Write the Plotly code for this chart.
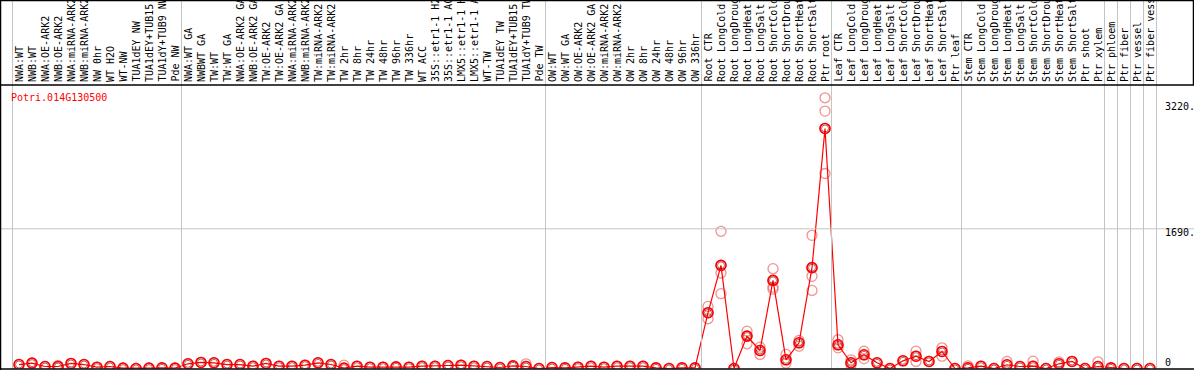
import plotly.graph_objects as go

gene = "Potri.014G130500"

categories = [
    "NWA:WT", "NWB:WT", "NWA:OE-ARK2", "NWB:OE-ARK2", "NWA:miRNA-ARK2", "NWB:miRNA-ARK2",
    "NW 0hr", "WT H2O", "WT-NW", "TUA1dEY NW", "TUA1dEY+TUB15", "TUA1dY+TUB9 NW", "Pde NW",
    "NWA:WT GA", "NWBWT GA", "TW:WT", "TW:WT GA", "NWA:OE-ARK2 GA", "NWB:OE-ARK2 GA",
    "TW:OE-ARK2", "TW:OE-ARK2 GA", "NWA:miRNA-ARK2", "NWB:miRNA-ARK2", "TW:miRNA-ARK2",
    "TW:miRNA-ARK2", "TW 2hr", "TW 8hr", "TW 24hr", "TW 48hr", "TW 96hr", "TW 336hr", "WT ACC",
    "35S::etr1-1 H2", "35S::etr1-1 AC", "LMX5::etr1-1 H", "LMX5::etr1-1 A", "WT-TW",
    "TUA1dEY TW", "TUA1dEY+TUB15", "TUA1dY+TUB9 TW", "Pde TW",
    "OW:WT", "OW:WT GA", "OW:OE-ARK2", "OW:OE-ARK2 GA", "OW:miRNA-ARK2", "OW:miRNA-ARK2",
    "OW 2hr", "OW 8hr", "OW 24hr", "OW 48hr", "OW 96hr", "OW 336hr",
    "Root CTR", "Root LongCold", "Root LongDroug", "Root LongHeat", "Root LongSalt",
    "Root ShortCold", "Root ShortDrou", "Root ShortHeat", "Root ShortSalt", "Ptr root",
    "Leaf CTR", "Leaf LongCold", "Leaf LongDroug", "Leaf LongHeat", "Leaf LongSalt",
    "Leaf ShortCold", "Leaf ShortDrou", "Leaf ShortHeat", "Leaf ShortSalt", "Ptr leaf",
    "Stem CTR", "Stem LongCold", "Stem LongDroug", "Stem LongHeat", "Stem LongSalt",
    "Stem ShortCold", "Stem ShortDrou", "Stem ShortHeat", "Stem ShortSalt", "Ptr shoot",
    "Ptr xylem", "Ptr phloem", "Ptr fiber", "Ptr vessel", "Ptr fiber vess",
]

mean_values = [
    48, 65, 24, 24, 61, 48, 16, 24, 4, 0, 4, 8, 4,
    57, 73, 69, 48, 48, 28, 61, 28, 28, 40, 69, 48, 4, 28, 16, 16, 20, 16, 28,
    28, 36, 40, 28, 24, 12, 32, 24, 0,
    12, 8, 16, 28, 16, 28, 28, 28, 8, 0, 8, 8,
    675, 1248, 0, 392, 218, 1066, 105, 311, 1220, 2904,
    287, 69, 166, 69, 0, 93, 149, 85, 206, 0,
    8, 28, 0, 45, 24, 28, 0, 57, 85, 0, 24,
    8, 0, 0, 0,
]

# replicate values that stand apart from the mean (category index -> values)
replicate_values = {
    3: [36, 20], 25: [40], 39: [57],
    53: [751, 602], 54: [1660, 1155, 905], 56: [452, 299], 57: [258, 170],
    58: [1208, 985, 960], 59: [170, 65], 60: [270, 340], 61: [1611, 1115, 945],
    62: [3275, 3114, 2359], 63: [348, 250], 64: [105, 40], 65: [210, 120],
    69: [210, 85], 71: [250, 149], 73: [32], 76: [85], 78: [89], 80: [80], 83: [81],
}

group_bounds = [-0.5, 12.5, 40.5, 52.5, 62.5, 72.5, 83.5, 84.5, 85.5, 86.5, 87.5]
y_ticks = [3220, 1690, 0]
y_tick_text = ["3220.", "1690.", "0"]
y_grid = [1690]

W, H = 1194, 370
PLOT_TOP, PLOT_BOT = 85, 368.5
STEP, X0 = 13.0, 19.0
Y_MAX = 1690 * (PLOT_BOT - PLOT_TOP) / (PLOT_BOT - 228.8)

def py(px):
    return 1 - px / H

def val_px(v):
    return PLOT_BOT - v / Y_MAX * (PLOT_BOT - PLOT_TOP)

xs = list(range(len(categories)))
rep_x, rep_y = [], []
for i in xs:
    vals = replicate_values.get(i, [])
    for v in vals + [mean_values[i]]:
        rep_x.append(i)
        rep_y.append(v)

fig = go.Figure()
fig.add_trace(go.Scatter(
    x=rep_x, y=rep_y, mode="markers",
    marker=dict(symbol="circle-open", size=10, color="rgba(235,110,110,0.75)",
                line=dict(width=1.3)),
    hoverinfo="skip", showlegend=False))
fig.add_trace(go.Scatter(
    x=xs, y=mean_values, mode="lines+markers",
    line=dict(color="#ff0000", width=1.2),
    marker=dict(symbol="circle-open", size=10, color="#ff0000", line=dict(width=1.6)),
    showlegend=False))
fig.add_trace(go.Scatter(
    x=xs, y=mean_values, mode="markers",
    marker=dict(symbol="circle-open", size=7, color="rgba(120,0,0,0.75)", line=dict(width=0.8)),
    hoverinfo="skip", showlegend=False))

shapes = []
for b in group_bounds:
    shapes.append(dict(type="line", xref="x", yref="paper", x0=b, x1=b, y0=py(369), y1=1,
                       line=dict(color="#c4c4c4", width=1)))
for g in y_grid:
    shapes.append(dict(type="line", xref="paper", yref="paper", x0=0, x1=1,
                       y0=py(val_px(g)), y1=py(val_px(g)), line=dict(color="#c4c4c4", width=1)))
black = dict(color="black", width=1.5)
shapes += [
    dict(type="line", xref="paper", yref="paper", x0=0, x1=1, y0=py(85), y1=py(85), line=black),
    dict(type="line", xref="paper", yref="paper", x0=0, x1=1, y0=py(369), y1=py(369), line=black),
    dict(type="line", xref="paper", yref="paper", x0=0, x1=1, y0=py(0.5), y1=py(0.5), line=black),
    dict(type="line", xref="paper", yref="paper", x0=0.5 / W, x1=0.5 / W, y0=0, y1=1, line=black),
    dict(type="line", xref="paper", yref="paper", x0=1 - 0.5 / W, x1=1 - 0.5 / W,
         y0=py(85), y1=1, line=black),
]

mono = "DejaVu Sans Mono"
annotations = []
for i, c in enumerate(categories):
    annotations.append(dict(x=i, y=py(83), xref="x", yref="paper", text=c, showarrow=False,
                            textangle=-90, xanchor="center", yanchor="bottom",
                            font=dict(family=mono, size=10, color="black"), borderpad=0))
annotations.append(dict(x=9 / W, y=py(97), xref="paper", yref="paper", text=gene,
                        showarrow=False, xanchor="left", yanchor="middle",
                        font=dict(family=mono, size=10, color="#ff0000")))
for v, t in zip(y_ticks, y_tick_text):
    ypx = val_px(v) + 4 if v > 0 else 362
    annotations.append(dict(x=1163 / W, y=py(ypx), xref="paper", yref="paper", text=t,
                            showarrow=False, xanchor="left", yanchor="middle",
                            font=dict(family=mono, size=10, color="black")))

x_lo = -X0 / STEP
x_hi = x_lo + W / STEP
fig.update_layout(
    width=W, height=H, margin=dict(l=0, r=0, t=0, b=0),
    paper_bgcolor="white", plot_bgcolor="white",
    xaxis=dict(range=[x_lo, x_hi], domain=[0, 1], visible=False),
    yaxis=dict(range=[0, Y_MAX], domain=[py(PLOT_BOT), py(PLOT_TOP)], visible=False),
    shapes=shapes, annotations=annotations,
)

fig.write_html("out.html", config={"displayModeBar": False},
               post_script="document.body.style.margin='0';")
